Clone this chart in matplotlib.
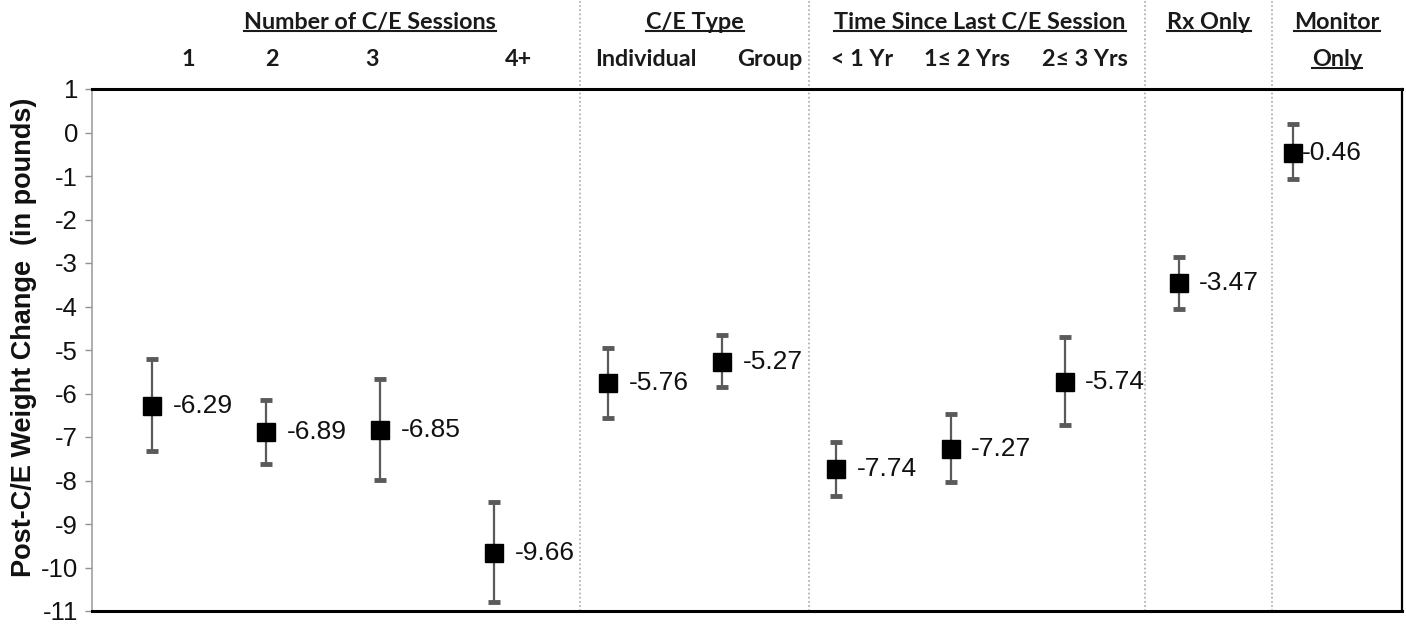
import matplotlib
matplotlib.use("Agg")
import matplotlib.pyplot as plt
import matplotlib.transforms as mtransforms
from matplotlib.lines import Line2D
import numpy as np

# data
groups = ["1", "2", "3", "4+", "Individual", "Group", "< 1 Yr", "1\u2264 2 Yrs",
          "2\u2264 3 Yrs", "Rx Only", "Monitor Only"]
means = [-6.29, -6.89, -6.85, -9.66, -5.76, -5.27, -7.74, -7.27, -5.74, -3.47, -0.46]
upper = [-5.20, -6.14, -5.66, -8.50, -4.96, -4.66, -7.12, -6.47, -4.69, -2.86, 0.19]
lower = [-7.33, -7.63, -7.99, -10.79, -6.56, -5.85, -8.36, -8.04, -6.73, -4.06, -1.06]
yticks = list(range(-11, 2))

W, H = 1406, 625
fig = plt.figure(figsize=(W / 100, H / 100), dpi=100)

def fx(x):
    return x / W

def fy(y):
    return 1 - y / H

ax = fig.add_axes([fx(92), fy(611), fx(1402) - fx(92), fy(89) - fy(611)])

x = np.arange(len(means))
m = np.array(means)
yerr = np.array([m - np.array(lower), np.array(upper) - m])

eb = ax.errorbar(x, m, yerr=yerr, fmt="none", ecolor="#5a5a5a", elinewidth=1.6,
                 capsize=4, capthick=3.5, zorder=2)
for cap in eb[1]:
    cap.set_color("#1a1a1a")
    cap.set_solid_capstyle("round")
ax.plot(x, m, linestyle="none", marker="s", markersize=13, color="black", zorder=3)

for i, v in enumerate(means):
    off = 9 if i == len(means) - 1 else 20
    ax.annotate(f"{v:.2f}", (x[i], v), xytext=(off * 0.72, 0), textcoords="offset points",
                ha="left", va="center", fontsize=19, family="Liberation Sans",
                color="#111111")

ax.set_xlim(-0.53, 10.96)
ax.set_ylim(-11, 1)
ax.set_yticks(yticks)
ax.set_yticklabels([str(t) for t in yticks], fontsize=18.5, family="Liberation Sans",
                   color="#111111")
ax.tick_params(axis="y", length=5, color="#909090", width=1, pad=5)
ax.set_xticks([])

for s in ["top", "bottom"]:
    ax.spines[s].set_linewidth(2.2)
    ax.spines[s].set_color("black")
ax.spines["right"].set_linewidth(1.6)
ax.spines["right"].set_color("black")
ax.spines["left"].set_color("#a0a0a0")
ax.spines["left"].set_linewidth(1.2)

ax.set_ylabel("Post-C/E Weight Change  (in pounds)", fontsize=19.5, fontweight="bold",
              family="Liberation Sans", color="#111111")
ax.yaxis.set_label_coords(-0.042, 0.525)

# dotted dividers between the groups, running up through the header
trans = mtransforms.blended_transform_factory(ax.transData, ax.transAxes)
for d in [3.75, 5.76, 8.71, 9.82]:
    ax.add_line(Line2D([d, d], [0, 1.175], transform=trans, clip_on=False,
                       color="#a8a8a8", linestyle=(0, (1, 1.5)), linewidth=1.2))

# header texts
hfont = dict(family="Lato", fontweight="bold", fontsize=16.8, color="#1a1a1a",
             ha="center", va="baseline")
heads = [
    ("Number of C/E Sessions", 370, 29, True),
    ("C/E Type", 695, 29, True),
    ("Time Since Last C/E Session", 980, 29, True),
    ("Rx Only", 1209, 29, True),
    ("Monitor", 1337, 29, True),
    ("Only", 1337, 66, True),
    ("1", 188, 66, False),
    ("2", 272, 66, False),
    ("3", 372, 66, False),
    ("4+", 518, 66, False),
    ("Individual", 646, 66, False),
    ("Group", 770, 66, False),
    ("< 1 Yr", 862, 66, False),
    ("1\u2264 2 Yrs", 967, 66, False),
    ("2\u2264 3 Yrs", 1085, 66, False),
]
texts = []
for s, px, py, ul in heads:
    t = fig.text(fx(px), fy(py), s, **hfont)
    texts.append((t, ul))

fig.canvas.draw()
r = fig.canvas.get_renderer()
for t, ul in texts:
    if not ul:
        continue
    bb = t.get_window_extent(renderer=r)
    yb = bb.y0 + 2
    fig.add_artist(Line2D([bb.x0 / W, bb.x1 / W], [yb / H, yb / H],
                          color="#1a1a1a", linewidth=1.5))

fig.savefig("out.png", dpi=100)
